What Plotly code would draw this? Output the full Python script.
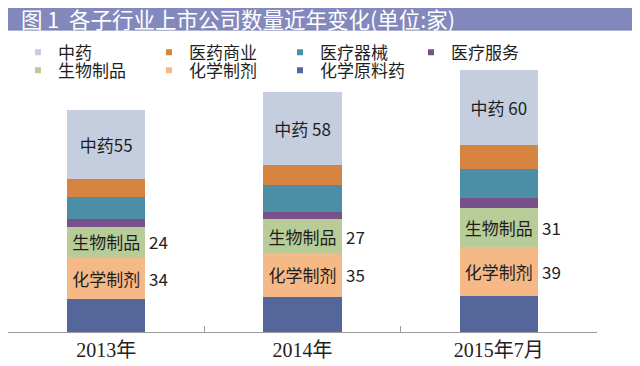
import plotly.graph_objects as go

# ---- data ----
categories = ["2013年", "2014年", "2015年7月"]
series_names = ["化学原料药", "化学制剂", "生物制品", "医疗服务", "医疗器械", "医药商业", "中药"]
huaxue_yuanliao = [26, 28, 29]
huaxue_zhiji = [34, 35, 39]
shengwu_zhipin = [24, 27, 31]
yiliao_fuwu = [6, 6, 8]
yiliao_qixie = [18, 21, 23]
yiyao_shangye = [14, 16, 19]
zhongyao = [55, 58, 60]
zhongyao_labels = ["中药55", "中药 58", "中药 60"]
title_text = "图 1  各子行业上市公司数量近年变化(单位:家)"

# ---- styles ----
colors = {
    "化学原料药": "#55669A",
    "化学制剂": "#F5B887",
    "生物制品": "#B8CC98",
    "医疗服务": "#78508A",
    "医疗器械": "#4C8EA5",
    "医药商业": "#D6843F",
    "中药": "#C4CEDF",
}
values = {
    "化学原料药": huaxue_yuanliao,
    "化学制剂": huaxue_zhiji,
    "生物制品": shengwu_zhipin,
    "医疗服务": yiliao_fuwu,
    "医疗器械": yiliao_qixie,
    "医药商业": yiyao_shangye,
    "中药": zhongyao,
}
inside_text = {
    "中药": zhongyao_labels,
    "生物制品": ["生物制品"] * 3,
    "化学制剂": ["化学制剂"] * 3,
}
CJK = "Noto Sans CJK SC, Noto Sans, sans-serif"
TXT = "#1e1e1e"

fig = go.Figure()
for name in series_names:
    fig.add_trace(go.Bar(
        x=categories, y=values[name], name=name,
        marker=dict(color=colors[name], line=dict(width=0)),
        text=inside_text.get(name), textposition="inside" if name in inside_text else "none",
        insidetextanchor="middle", textangle=0, constraintext="none",
        textfont=dict(family=CJK, size=17, color=TXT),
        showlegend=False, hoverinfo="x+y+name",
    ))

# legend entries (small square markers), two rows
row1 = ["中药", "医药商业", "医疗器械", "医疗服务"]
row2 = ["生物制品", "化学制剂", "化学原料药"]
for lg, names in (("legend", row1), ("legend2", row2)):
    for name in names:
        fig.add_trace(go.Scatter(
            x=[None], y=[None], mode="markers", name=name, legend=lg,
            marker=dict(symbol="square", size=6, color=colors[name]),
            hoverinfo="skip",
        ))

# value annotations to the right of the labelled segments
annotations = []
for i, cat in enumerate(categories):
    base_g = huaxue_yuanliao[i] + huaxue_zhiji[i]
    annotations.append(dict(x=cat, y=base_g + shengwu_zhipin[i] / 2, text=str(shengwu_zhipin[i]),
                            xanchor="left", yanchor="middle", xshift=41, showarrow=False,
                            font=dict(family=CJK, size=17, color=TXT)))
    annotations.append(dict(x=cat, y=huaxue_yuanliao[i] + huaxue_zhiji[i] / 2, text=str(huaxue_zhiji[i]),
                            xanchor="left", yanchor="middle", xshift=41, showarrow=False,
                            font=dict(family=CJK, size=17, color=TXT)))

# title band
annotations.append(dict(xref="paper", yref="paper", x=0.018, y=1.136, xanchor="left", yanchor="middle",
                        text=title_text, showarrow=False,
                        font=dict(family=CJK, size=21.5, color="#ffffff")))
shapes = [dict(type="rect", xref="paper", yref="paper", x0=-0.002, x1=1.075, y0=1.094, y1=1.176,
               fillcolor="#8389BD", line=dict(color="#767CB0", width=1), layer="below")]

legend_common = dict(orientation="h", xanchor="left", yanchor="middle", x=0.017, traceorder="normal",
                     entrywidth=86, entrywidthmode="pixels", bgcolor="rgba(0,0,0,0)",
                     font=dict(family=CJK, size=17, color=TXT), itemclick=False, itemdoubleclick=False)

fig.update_layout(
    width=632, height=358,
    margin=dict(l=0, r=43, t=48, b=34, autoexpand=False),
    paper_bgcolor="white", plot_bgcolor="white",
    barmode="stack", bargap=0.6,
    xaxis=dict(type="category", range=[-0.5, 2.5], showline=True, linecolor="#9a9a9a", linewidth=1,
               ticks="inside", tickson="boundaries", ticklen=6, tickcolor="#9a9a9a", showgrid=False,
               tickfont=dict(family="Liberation Serif, Noto Sans CJK SC, serif", size=20, color="#222222")),
    yaxis=dict(visible=False, range=[0, 220]),
    legend=dict(y=1.012, **legend_common),
    legend2=dict(y=0.9467, **legend_common),
    annotations=annotations,
    shapes=shapes,
    showlegend=True,
)

fig.write_html("out.html")
